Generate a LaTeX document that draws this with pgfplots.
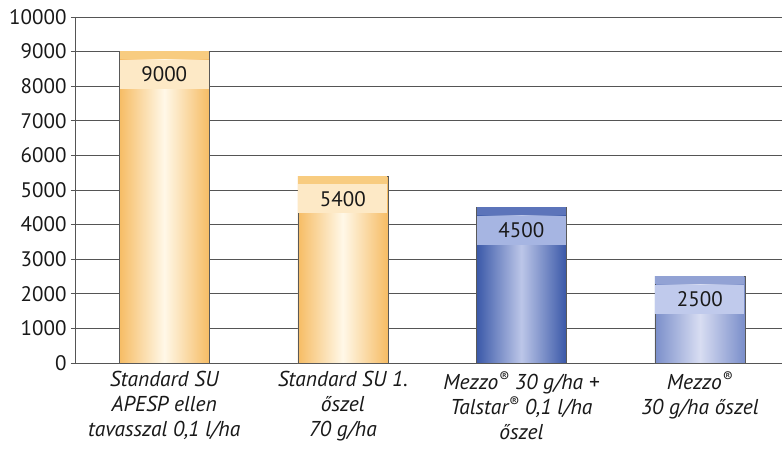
\documentclass[border=0pt]{standalone}
\usepackage{pgfplots}
\pgfplotsset{compat=1.18}
\usepackage{fontspec}
\setmainfont{PT Sans}
\definecolor{gridc}{RGB}{85,85,85}
\definecolor{oedge}{RGB}{246,188,100}
\definecolor{omid}{RGB}{255,248,232}
\definecolor{ostrip}{RGB}{248,204,128}
\definecolor{oband}{RGB}{253,233,198}
\definecolor{bedge}{RGB}{58,88,168}
\definecolor{bmid}{RGB}{188,198,232}
\definecolor{bstrip}{RGB}{92,116,186}
\definecolor{bband}{RGB}{166,181,226}
\definecolor{cedge}{RGB}{122,142,202}
\definecolor{cmid}{RGB}{216,221,242}
\definecolor{cstrip}{RGB}{146,162,212}
\definecolor{cband}{RGB}{192,202,236}
\tikzset{valnode/.style 2 args={fill=#1, inner sep=0pt, minimum width=89pt, minimum height=29pt,
  anchor=north, yshift=-8pt, font=\fontsize{21}{24}\selectfont, text=black!90,
  label={[fill=#2, inner sep=0pt, minimum width=89pt, minimum height=8pt, anchor=south, label distance=0pt]north:{}}}}
\begin{document}
\begin{tikzpicture}
\begin{axis}[
  at={(75pt,85pt)}, anchor=south west,
  scale only axis, width=707pt, height=346pt,
  xmin=-0.5, xmax=3.46, ymin=0, ymax=10000,
  axis lines*=left,
  axis line style={gridc, line width=0.8pt},
  ytick={0,1000,...,10000},
  ymajorgrids, grid style={gridc, line width=0.8pt},
  tick align=outside, major tick length=4pt,
  tick style={gridc, line width=0.8pt},
  xtick={0,1,2,3},
  xtick style={draw=none},
  minor xtick={0.5,1.5,2.5},
  minor tick length=5pt,
  minor tick style={gridc, line width=0.8pt},
  xticklabels={{Standard SU\\APESP ellen\\tavasszal 0,1 l/ha},
               {Standard SU 1.\\őszel\\70 g/ha},
               {Mezzo\textsuperscript{®} 30 g/ha +\\Talstar\textsuperscript{®} 0,1 l/ha\\őszel},
               {Mezzo\textsuperscript{®}\\30 g/ha őszel}},
  xticklabel style={align=center, font=\itshape\fontsize{21.5}{25}\selectfont, text=black!90, yshift=-1pt},
  yticklabel style={font=\fontsize{21}{24}\selectfont, text=black!90, xshift=-1pt},
  /pgf/number format/assume math mode=true,
  scaled y ticks=false,
  yticklabel={\pgfmathprintnumber[fixed,use comma,1000 sep={}]{\tick}},
  ybar, bar width=90pt, bar shift=0pt,
  nodes near coords,
  point meta=explicit symbolic,
]
\addplot[draw=black!65, line width=0.6pt, left color=oedge, right color=oedge, middle color=omid,
  every node near coord/.style={valnode={oband}{ostrip}}]
  coordinates {(0,9000) [9000]};
\addplot[draw=black!65, line width=0.6pt, left color=oedge, right color=oedge, middle color=omid,
  every node near coord/.style={valnode={oband}{ostrip}}]
  coordinates {(1,5400) [5400]};
\addplot[draw=black!65, line width=0.6pt, left color=bedge, right color=bedge, middle color=bmid,
  every node near coord/.style={valnode={bband}{bstrip}}]
  coordinates {(2,4500) [4500]};
\addplot[draw=black!65, line width=0.6pt, left color=cedge, right color=cedge, middle color=cmid,
  every node near coord/.style={valnode={cband}{cstrip}}]
  coordinates {(3,2500) [2500]};
\end{axis}
\pgfresetboundingbox
\path (0,0) rectangle (782pt,448pt);
\end{tikzpicture}
\end{document}
